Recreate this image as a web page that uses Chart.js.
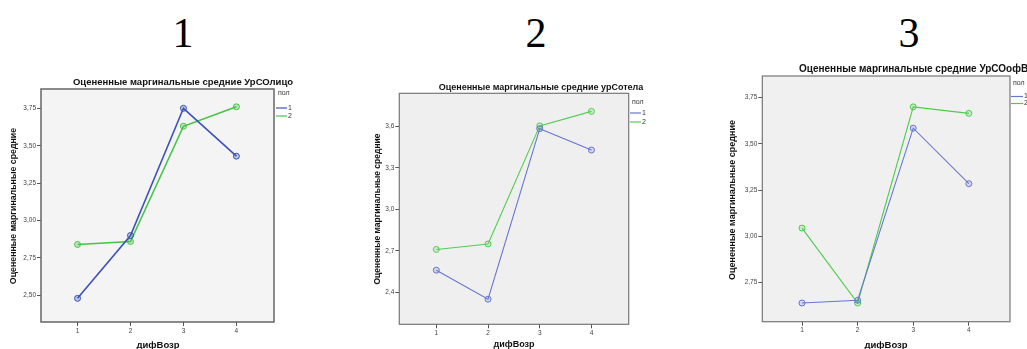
<!DOCTYPE html>
<html>
<head>
<meta charset="utf-8">
<script src="https://cdn.jsdelivr.net/npm/chart.js@4.4.1/dist/chart.umd.min.js"></script>
<style>
  body { margin: 0; background: #fff; width: 1027px; height: 349px; overflow: hidden; position: relative; }
  canvas { position: absolute; }
  .num { position: absolute; font-family: "Liberation Serif", "Times New Roman", serif; font-size: 42px; line-height: 1; transform: translate(-50%, -50%); color: #000; }
</style>
</head>
<body>
<div class="num" style="left:183px; top:33px;">1</div>
<div class="num" style="left:536px; top:33px;">2</div>
<div class="num" style="left:909px; top:33px;">3</div>
<canvas id="c1" width="340" height="289" style="left:0; top:60px;"></canvas>
<canvas id="c2" width="340" height="289" style="left:340px; top:60px;"></canvas>
<canvas id="c3" width="347" height="299" style="left:680px; top:50px;"></canvas>
<script>
// categories of дифВозр and the two groups of пол
const categories = [1, 2, 3, 4];
const seriesNames = ["1", "2"];
// estimated marginal means
const licoMale = [2.48, 2.90, 3.75, 3.43];
const licoFemale = [2.84, 2.86, 3.63, 3.76];
const telaMale = [2.56, 2.35, 3.585, 3.43];
const telaFemale = [2.71, 2.75, 3.605, 3.71];
const ofMale = [2.64, 2.655, 3.585, 3.285];
const ofFemale = [3.045, 2.64, 3.70, 3.665];
// y tick values
const licoTicks = [2.50, 2.75, 3.00, 3.25, 3.50, 3.75];
const telaTicks = [2.4, 2.7, 3.0, 3.3, 3.6];
const ofTicks = [2.75, 3.00, 3.25, 3.50, 3.75];

const yAxisTitle = "Оцененные маргинальные средние";
const xAxisTitle = "дифВозр";
const legendTitle = "пол";

const FONT = "'Liberation Sans', Arial, sans-serif";

//draws plot background, frame, titles and the small legend
const spssPlugin = {
  id: "spss",
  beforeDraw(chart, args, o) {
    const a = chart.chartArea, ctx = chart.ctx;
    ctx.save();
    ctx.fillStyle = o.bg;
    ctx.fillRect(a.left, a.top, a.right - a.left, a.bottom - a.top);
    ctx.restore();
  },
  afterDraw(chart, args, o) {
    const a = chart.chartArea, ctx = chart.ctx;
    ctx.save();
    ctx.strokeStyle = o.frame;
    ctx.lineWidth = o.frameWidth;
    ctx.strokeRect(a.left, a.top, a.right - a.left, a.bottom - a.top);

    ctx.fillStyle = "#111";
    ctx.textBaseline = "middle";
    // title
    ctx.font = "bold " + o.titleSize + "px " + FONT;
    ctx.textAlign = o.titleAlign;
    ctx.fillText(o.title, o.titlePos[0], o.titlePos[1]);
    // x axis title
    ctx.font = "bold " + o.xTitleSize + "px " + FONT;
    ctx.textAlign = "center";
    ctx.fillText(xAxisTitle, o.xTitlePos[0], o.xTitlePos[1]);
    // y axis title
    ctx.save();
    ctx.font = "bold " + o.yTitleSize + "px " + FONT;
    ctx.translate(o.yTitlePos[0], o.yTitlePos[1]);
    ctx.rotate(-Math.PI / 2);
    ctx.fillText(yAxisTitle, 0, 0);
    ctx.restore();
    // legend
    const lg = o.legend;
    ctx.font = lg.size + "px " + FONT;
    ctx.fillStyle = "#333";
    ctx.textAlign = "left";
    ctx.fillText(legendTitle, lg.x + 2, lg.y);
    chart.data.datasets.forEach((ds, i) => {
      const y = lg.y + lg.first + i * lg.gap;
      ctx.strokeStyle = ds.borderColor;
      ctx.lineWidth = 1.2;
      ctx.beginPath();
      ctx.moveTo(lg.x, y);
      ctx.lineTo(lg.x + lg.len, y);
      ctx.stroke();
      ctx.fillText(seriesNames[i], lg.x + lg.len + 1, y);
    });
    ctx.restore();
  }
};

function makeChart(id, male, female, ticks, cfg) {
  const toPoints = (arr) => categories.map((c, i) => ({ x: c, y: arr[i] }));
  const ds = (arr, color, fill) => ({
    data: toPoints(arr),
    borderColor: color,
    borderWidth: cfg.lineWidth,
    pointRadius: 3,
    pointBorderWidth: 1,
    pointBackgroundColor: fill,
    pointBorderColor: color,
    tension: 0,
    fill: false,
  });
  const tickFont = { family: FONT, size: cfg.tickSize };
  return new Chart(document.getElementById(id), {
    type: "line",
    plugins: [spssPlugin],
    data: {
      datasets: [
        ds(male, cfg.blue, cfg.blueFill),
        ds(female, cfg.green, cfg.greenFill),
      ],
    },
    options: {
      responsive: false,
      animation: false,
      layout: { padding: { left: 0, right: cfg.padRight, top: cfg.padTop, bottom: 0 } },
      plugins: {
        legend: { display: false },
        tooltip: { enabled: false },
        spss: cfg.deco,
      },
      scales: {
        x: {
          type: "linear",
          min: cfg.xMin,
          max: cfg.xMax,
          afterBuildTicks: (s) => { s.ticks = categories.map((v) => ({ value: v })); },
          afterFit: (s) => { s.height = cfg.xAxisH; },
          grid: { drawOnChartArea: false, tickLength: 4, tickColor: "#555", tickWidth: 1 },
          border: { display: false },
          ticks: { font: tickFont, color: "#444", padding: 1, maxRotation: 0, autoSkip: false,
            callback: (v) => String(v) },
        },
        y: {
          min: cfg.yMin,
          max: cfg.yMax,
          afterBuildTicks: (s) => { s.ticks = ticks.map((v) => ({ value: v })); },
          afterFit: (s) => { s.width = cfg.yAxisW; },
          grid: { drawOnChartArea: false, tickLength: 4, tickColor: "#555", tickWidth: 1 },
          border: { display: false },
          ticks: { font: tickFont, color: "#444", padding: 1, autoSkip: false,
            callback: (v) => v.toFixed(cfg.decimals).replace(".", ",") },
        },
      },
    },
  });
}

makeChart("c1", licoMale, licoFemale, licoTicks, {
  xMin: 0.31, xMax: 4.71, yMin: 2.322, yMax: 3.879, decimals: 2,
  padRight: 66, padTop: 29, xAxisH: 27, yAxisW: 41,
  lineWidth: 1.6, tickSize: 6.5,
  blue: "#3c52b8", blueFill: "rgba(60,82,184,0.3)",
  green: "#45c445", greenFill: "rgba(69,196,69,0.3)",
  deco: {
    bg: "#f4f4f4", frame: "#666", frameWidth: 1.5,
    title: "Оцененные маргинальные средние УрСОлицо", titleSize: 9.5, titleAlign: "center",
    titlePos: [183, 22], xTitleSize: 9.5, yTitleSize: 8.8, xTitlePos: [158, 285], yTitlePos: [14, 146],
    legend: { x: 276, y: 33, first: 15, gap: 8, len: 11, size: 7 },
  },
});

makeChart("c2", telaMale, telaFemale, telaTicks, {
  xMin: 0.284, xMax: 4.72, yMin: 2.168, yMax: 3.841, decimals: 1,
  padRight: 51.3, padTop: 33.3, xAxisH: 24.7, yAxisW: 59.3,
  lineWidth: 1.1, tickSize: 6.5,
  blue: "#6676cc", blueFill: "rgba(102,118,204,0.2)",
  green: "#55cc55", greenFill: "rgba(85,204,85,0.2)",
  deco: {
    bg: "#efefef", frame: "#777", frameWidth: 1.2,
    title: "Оцененные маргинальные средние урСотела", titleSize: 9, titleAlign: "center",
    titlePos: [201, 28], xTitleSize: 9, yTitleSize: 8.5, xTitlePos: [174, 285], yTitlePos: [38, 149],
    legend: { x: 290, y: 42, first: 11, gap: 9, len: 11, size: 7 },
  },
});

makeChart("c3", ofMale, ofFemale, ofTicks, {
  xMin: 0.286, xMax: 4.74, yMin: 2.539, yMax: 3.867, decimals: 2,
  padRight: 17, padTop: 26, xAxisH: 27.3, yAxisW: 82.3,
  lineWidth: 1.1, tickSize: 6.5,
  blue: "#6878cc", blueFill: "rgba(104,120,204,0.2)",
  green: "#4dcc4d", greenFill: "rgba(77,204,77,0.2)",
  deco: {
    bg: "#f0f0f0", frame: "#777", frameWidth: 1.2,
    title: "Оцененные маргинальные средние УрСОофВ", titleSize: 10, titleAlign: "left",
    titlePos: [119, 19.5], xTitleSize: 9.5, yTitleSize: 9, xTitlePos: [206, 295], yTitlePos: [53, 150],
    legend: { x: 331, y: 33, first: 13.5, gap: 7, len: 12, size: 7 },
  },
});
</script>
</body>
</html>
